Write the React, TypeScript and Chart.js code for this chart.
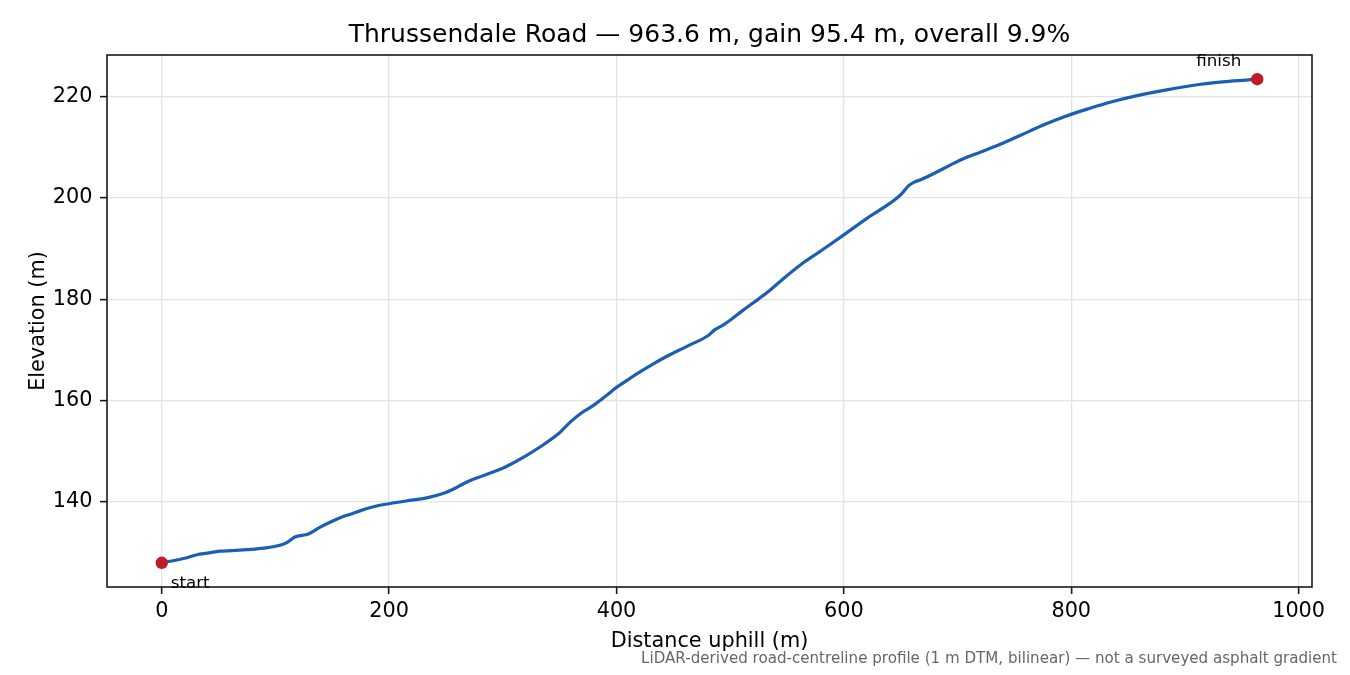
import React, { useEffect, useRef } from 'react';
import { Chart, registerables } from 'chart.js';

Chart.register(...registerables);

// ---- data ----
const DISTANCE = [
  0, 10, 20, 31, 40, 51, 62, 75, 90, 103, 110, 117, 129, 139, 148, 157, 166, 175, 189, 201,
  215, 233, 248, 258, 268, 283, 296, 304, 321, 333, 348, 360, 370, 380, 390, 400, 410, 421, 432, 444,
  462, 481, 486, 493, 499, 510, 521, 533, 547, 562, 579, 600, 620, 641, 650, 657, 662, 668, 680, 694,
  707, 720, 738, 756, 777, 795, 817, 835, 857, 884, 914, 940, 963.6,
];
const ELEVATION = [
  128.0, 128.4, 128.9, 129.6, 129.9, 130.3, 130.4, 130.6, 130.9, 131.4, 132.0, 133.1, 133.7, 135.0, 136.0, 136.9, 137.6, 138.3, 139.2, 139.7,
  140.2, 140.8, 141.7, 142.7, 143.9, 145.2, 146.3, 147.1, 149.2, 150.9, 153.3, 155.9, 157.7, 159.1, 160.8, 162.6, 164.1, 165.7, 167.2, 168.7,
  170.7, 172.9, 173.9, 174.8, 175.7, 177.6, 179.4, 181.4, 184.1, 186.8, 189.4, 192.7, 195.9, 199.0, 200.6, 202.4, 203.1, 203.6, 204.9, 206.5,
  207.9, 209.0, 210.6, 212.4, 214.5, 216.1, 217.7, 218.9, 220.1, 221.3, 222.4, 223.0, 223.4,
];
const X_TICKS = [0, 200, 400, 600, 800, 1000];
const Y_TICKS = [140, 160, 180, 200, 220];
const X_LIMITS = [-48.18, 1011.78];
const Y_LIMITS = [123.23, 228.17];
const ENDPOINT_LABELS = ['start', 'finish'];
const TITLE = 'Thrussendale Road — 963.6 m, gain 95.4 m, overall 9.9%';
const X_LABEL = 'Distance uphill (m)';
const Y_LABEL = 'Elevation (m)';
const FOOTNOTE = 'LiDAR-derived road-centreline profile (1 m DTM, bilinear) — not a surveyed asphalt gradient';

const FONT = '"DejaVu Sans", "Liberation Sans", sans-serif';

const decorPlugin = {
  id: 'decor',
  afterDraw(chart: any) {
    const { ctx, chartArea: a, scales } = chart;
    const xs = scales.x;
    const ys = scales.y;
    ctx.save();
    // frame
    ctx.strokeStyle = '#1a1a1a';
    ctx.lineWidth = 1.6;
    ctx.strokeRect(a.left, a.top, a.right - a.left, a.bottom - a.top);

    ctx.fillStyle = '#000';
    ctx.textBaseline = 'alphabetic';
    // title
    ctx.font = `25px ${FONT}`;
    ctx.textAlign = 'center';
    ctx.fillText(TITLE, (a.left + a.right) / 2, 42);
    // x label
    ctx.font = `20.8px ${FONT}`;
    ctx.fillText(X_LABEL, (a.left + a.right) / 2, 647);
    // y label
    ctx.save();
    ctx.translate(43.5, (a.top + a.bottom) / 2);
    ctx.rotate(-Math.PI / 2);
    ctx.fillText(Y_LABEL, 0, 0);
    ctx.restore();

    // endpoint labels
    const n = DISTANCE.length - 1;
    ctx.font = `16.7px ${FONT}`;
    const sx = xs.getPixelForValue(DISTANCE[0]);
    const sy = ys.getPixelForValue(ELEVATION[0]);
    ctx.textAlign = 'left';
    ctx.fillText(ENDPOINT_LABELS[0], sx + 9, sy + 25);
    const fx = xs.getPixelForValue(DISTANCE[n]);
    const fy = ys.getPixelForValue(ELEVATION[n]);
    ctx.textAlign = 'right';
    ctx.fillText(ENDPOINT_LABELS[1], fx - 16, fy - 13);

    // footnote
    ctx.font = `15.1px ${FONT}`;
    ctx.fillStyle = '#666666';
    ctx.textAlign = 'right';
    ctx.fillText(FOOTNOTE, 1337, 663);
    ctx.restore();
  },
};

export default function App() {
  const ref = useRef<HTMLCanvasElement | null>(null);

  useEffect(() => {
    if (!ref.current) return;
    const profile = DISTANCE.map((d, i) => ({ x: d, y: ELEVATION[i] }));
    const n = DISTANCE.length - 1;
    const endpoints = [
      { x: DISTANCE[0], y: ELEVATION[0] },
      { x: DISTANCE[n], y: ELEVATION[n] },
    ];
    const tickFont = { family: FONT, size: 20.8, lineHeight: 1.2 };
    const chart = new Chart(ref.current, {
      type: 'line',
      data: {
        datasets: [
          {
            data: profile,
            borderColor: '#1a5fb4',
            borderWidth: 3.2,
            pointRadius: 0,
            cubicInterpolationMode: 'monotone',
            fill: false,
            order: 2,
          },
          {
            data: endpoints,
            showLine: false,
            pointRadius: 6.2,
            pointBackgroundColor: '#c01c28',
            pointBorderColor: '#c01c28',
            pointBorderWidth: 0,
            order: 1,
          },
        ],
      },
      options: {
        responsive: false,
        devicePixelRatio: 1,
        animation: false,
        events: [],
        layout: { padding: { top: 55, bottom: 0, left: 0, right: 38 } },
        plugins: { legend: { display: false }, tooltip: { enabled: false }, title: { display: false } },
        scales: {
          x: {
            type: 'linear',
            min: X_LIMITS[0],
            max: X_LIMITS[1],
            afterFit: (s: any) => { s.height = 88; },
            afterBuildTicks: (s: any) => { s.ticks = X_TICKS.map((v) => ({ value: v })); },
            border: { display: false },
            grid: { color: '#e3e3e3', lineWidth: 1.3, tickColor: '#1a1a1a', tickWidth: 1.6, tickLength: 7, drawTicks: true },
            ticks: { color: '#000', font: tickFont, padding: 5, autoSkip: false, maxRotation: 0, callback: (v: any) => String(v) },
          },
          y: {
            type: 'linear',
            min: Y_LIMITS[0],
            max: Y_LIMITS[1],
            afterFit: (s: any) => { s.width = 107; },
            afterBuildTicks: (s: any) => { s.ticks = Y_TICKS.map((v) => ({ value: v })); },
            border: { display: false },
            grid: { color: '#e3e3e3', lineWidth: 1.3, tickColor: '#1a1a1a', tickWidth: 1.6, tickLength: 7, drawTicks: true },
            ticks: { color: '#000', font: tickFont, padding: 7.5, autoSkip: false, callback: (v: any) => String(v) },
          },
        },
      },
      plugins: [decorPlugin],
    } as any);
    return () => chart.destroy();
  }, []);

  return (
    <div style={{ position: 'absolute', left: 0, top: 0, width: 1350, height: 675, background: '#fff' }}>
      <canvas ref={ref} width={1350} height={675} style={{ display: 'block', width: 1350, height: 675 }} />
    </div>
  );
}
